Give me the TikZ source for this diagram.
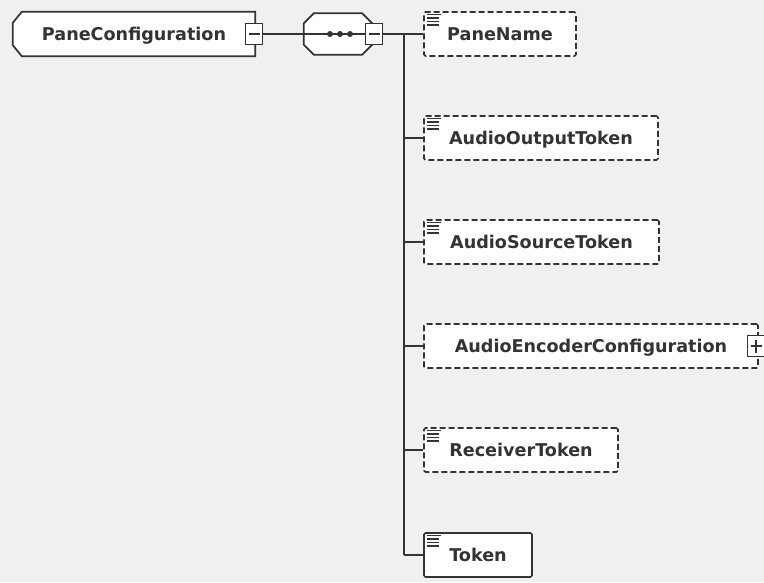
\documentclass[tikz,border=0pt]{standalone}
\usepackage{fontspec}
\setmainfont{DejaVu Sans}
\definecolor{bg}{HTML}{F0F0F0}
\definecolor{ink}{HTML}{333333}
\newcommand\elemicon[1]{%
  \foreach \d/\l in {3.5/14,7/12,10.5/12,14/12}
    \draw[ink, line width=1.4pt] ([xshift=3.5pt,yshift=-\d pt]#1.north west) -- ++(\l,0);}
\begin{document}
\begin{tikzpicture}[x=1pt,y=-1pt,
  every node/.style={font=\fontsize{17.6}{20}\selectfont\bfseries, text=ink},
  conn/.style={draw=ink, line width=1.9pt},
  optbox/.style={draw=ink, dash pattern=on 6pt off 3pt, line width=1.7pt, fill=white,
    rounded corners=1.5pt, inner sep=0pt, minimum height=44pt, text height=12.8pt, text depth=0pt},
  reqbox/.style={optbox, solid},
  outline/.style={draw=ink, line width=1.7pt, fill=white},
  togglebox/.style={draw=ink, line width=1.7pt, fill=white, inner sep=0pt,
    minimum width=17pt, minimum height=21pt}
]
\fill[bg] (0,0) rectangle (764,582);
\useasboundingbox (0,0) rectangle (764,582);

% root element
\node[inner sep=0pt, minimum width=242pt, minimum height=44pt] (root) at (134,34) {};
\path[outline] ([xshift=9pt]root.north west) -- (root.north east) -- (root.south east)
  -- ([xshift=9pt]root.south west) -- ([yshift=11pt]root.south west)
  -- ([yshift=-11pt]root.north west) -- cycle;
\node[text height=12.8pt, text depth=0pt] (rootlabel) at (root.center) {PaneConfiguration};
\node[togglebox] (rootminus) at (254,34) {};
\draw[ink, line width=1.5pt] ([xshift=-5.5pt]rootminus.center) -- ([xshift=5.5pt]rootminus.center);

% sequence compositor
\node[inner sep=0pt, minimum width=68pt, minimum height=41pt] (seq) at (338,34) {};
\path[outline] ([xshift=10pt]seq.north west) -- ([xshift=-10pt]seq.north east)
  -- ([yshift=-10pt]seq.north east) -- ([yshift=10pt]seq.south east)
  -- ([xshift=-10pt]seq.south east) -- ([xshift=10pt]seq.south west)
  -- ([yshift=10pt]seq.south west) -- ([yshift=-10pt]seq.north west) -- cycle;
\node[togglebox] (seqminus) at (374,34) {};
\draw[ink, line width=1.5pt] ([xshift=-5.5pt]seqminus.center) -- ([xshift=5.5pt]seqminus.center);
\draw[conn] (seq.west) -- (seqminus.west);
\foreach \x in {330,340,350} \fill[ink] (\x,34) circle (3pt);

\draw[conn] (rootminus.east) -- (seq.west);

% children
\node[optbox, minimum width=152pt] (pn) at (500,34) {PaneName};
\node[optbox, minimum width=234pt] (aot) at (541,138) {AudioOutputToken};
\node[optbox, minimum width=235pt] (ast) at (541.5,242) {AudioSourceToken};
\node[optbox, minimum width=334pt] (aec) at (591,346) {AudioEncoderConfiguration};
\node[optbox, minimum width=194pt] (rt) at (521,450) {ReceiverToken};
\node[reqbox, minimum width=108pt] (tok) at (478,555) {Token};

\elemicon{pn}
\elemicon{aot}
\elemicon{ast}
\elemicon{rt}
\elemicon{tok}

\node[togglebox] (aecplus) at (756,346) {};
\draw[ink, line width=1.5pt] ([xshift=-5.5pt]aecplus.center) -- ([xshift=5.5pt]aecplus.center);
\draw[ink, line width=1.5pt] ([yshift=-6.5pt]aecplus.center) -- ([yshift=6.5pt]aecplus.center);

% trunk
\coordinate (trunktop) at (404,34);
\coordinate (trunkbot) at (404,555);
\draw[conn] (seqminus.east) -- (pn.west);
\draw[conn] (trunktop) -- (trunkbot);
\foreach \c in {aot,ast,aec,rt,tok}
  \draw[conn] (trunktop |- \c.west) -- (\c.west);
\end{tikzpicture}
\end{document}
